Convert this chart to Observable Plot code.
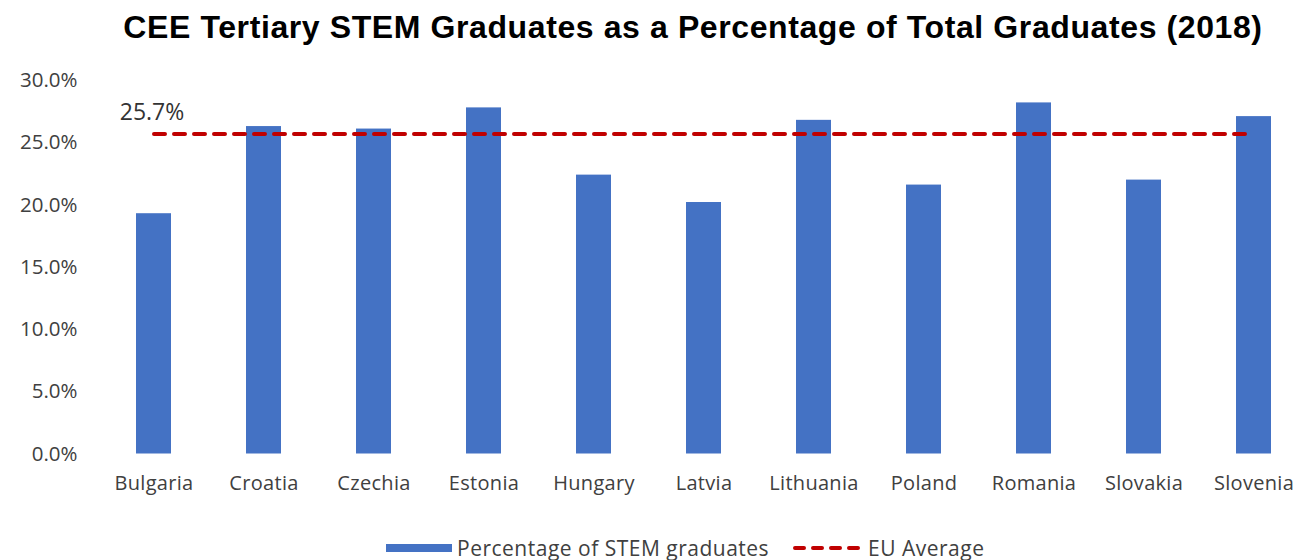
<!DOCTYPE html>
<html>
<head>
<meta charset="utf-8">
<script src="https://cdn.jsdelivr.net/npm/d3@7"></script>
<script src="https://cdn.jsdelivr.net/npm/@observablehq/plot@0.6"></script>
<style>
  html, body { margin: 0; padding: 0; background: #fff; width: 1301px; height: 560px; overflow: hidden; }
  #title { height: 56px; line-height: 54px; text-align: center; font-family: "Liberation Sans", Arial, sans-serif; font-weight: bold; font-size: 32px; color: #000; padding-left: 85px; letter-spacing: 0.6px; white-space: nowrap; }
  #chart svg { display: block; overflow: visible; }
  #chart svg g[aria-label="x-axis tick label"] text { letter-spacing: 0.3px; }
  #legend { position: absolute; top: 535px; left: 0; width: 1301px; height: 25px; font-family: "Open Sans", sans-serif; font-size: 21px; letter-spacing: 0.5px; color: #404040; }
  .item { position: absolute; top: 0; display: flex; align-items: center; height: 25px; white-space: nowrap; }
</style>
</head>
<body>
<div id="title">CEE Tertiary STEM Graduates as a Percentage of Total Graduates (2018)</div>
<div id="chart"></div>
<div id="legend">
  <div class="item" style="left:386px"><svg width="66" height="10"><rect x="0" y="1" width="66" height="8" fill="#4472c4"></rect></svg><span style="margin-left:5px">Percentage of STEM graduates</span></div>
  <div class="item" style="left:793px"><svg width="72" height="10"><line x1="2" x2="68" y1="5" y2="5" stroke="#c00000" stroke-width="4" stroke-linecap="round" stroke-dasharray="9,9"></line></svg><span style="margin-left:3px">EU Average</span></div>
</div>
<script>
const countries = ["Bulgaria","Croatia","Czechia","Estonia","Hungary","Latvia","Lithuania","Poland","Romania","Slovakia","Slovenia"];
const stemShare = [19.3, 26.3, 26.1, 27.8, 22.4, 20.2, 26.8, 21.6, 28.2, 22.0, 27.1];
const euAverage = 25.7;
const yTicks = [0, 5, 10, 15, 20, 25, 30];

const bars = countries.map((c, i) => ({country: c, value: stemShare[i]}));
const euLine = countries.map(c => ({country: c, value: euAverage}));

const chart = Plot.plot({
  width: 1301,
  height: 440,
  marginTop: 24,
  marginBottom: 42.5,
  marginLeft: 98,
  marginRight: 0,
  style: {fontFamily: "'Open Sans', sans-serif", fontSize: "20px", color: "#404040", background: "transparent"},
  x: {domain: countries, range: [97.4, 1310.7], paddingInner: 0.68, paddingOuter: 0.34, align: 0.5, label: null},
  y: {domain: [0, 30], label: null},
  marks: [
    Plot.ruleY(yTicks, {x1: 97, x2: 1301, stroke: "#d9d9d9", strokeWidth: 1.5}),
    Plot.axisY(yTicks, {tickSize: 0, tickPadding: 21, tickFormat: d => d.toFixed(1) + "%", fontSize: 20.5, fill: "#404040", label: null}),
    Plot.axisX({tickSize: 0, tickPadding: 22, fontSize: 20, fill: "#404040", label: null}),
    Plot.barY(bars, {x: "country", y: "value", fill: "#4472c4"}),
    Plot.line(euLine, {x: "country", y: "value", stroke: "#c00000", strokeWidth: 4, strokeLinecap: "round", strokeDasharray: "11,9"}),
    Plot.text([euAverage], {x: () => countries[0], y: d => d, text: d => d.toFixed(1) + "%", dx: -2, dy: -21, fontSize: 23, fill: "#333", textAnchor: "middle"})
  ]
});
document.getElementById("chart").appendChild(chart);
</script>
</body>
</html>
